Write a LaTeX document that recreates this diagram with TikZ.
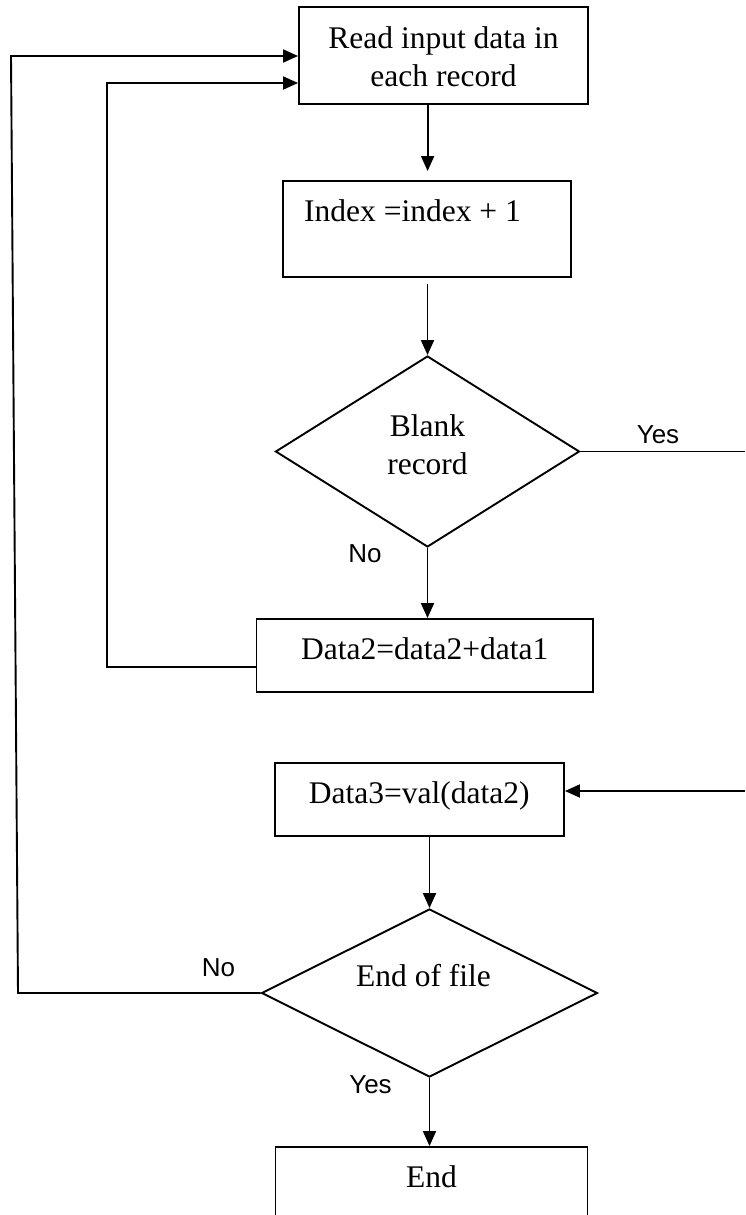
\documentclass[tikz,border=0pt]{standalone}
\usepackage{fontspec}
\setmainfont{Liberation Serif}
\newfontfamily\labfont{Liberation Sans}
\usetikzlibrary{shapes.geometric,arrows.meta}
\begin{document}
\begin{tikzpicture}[x=1pt,y=-1pt,
  box/.style={draw, line width=1.9pt, rectangle, inner sep=0pt},
  dia/.style={draw, line width=1.9pt, diamond, inner sep=0pt},
  txt/.style={font=\fontsize{31.5}{38}\selectfont, align=center, inner sep=0pt},
  lab/.style={font=\labfont\fontsize{26}{30}\selectfont, inner sep=0pt},
  conn/.style={line width=1.9pt},
  arr/.style={conn, -{Triangle[length=15pt,width=13pt]}}]
\useasboundingbox (0,0) rectangle (745,1215);
\clip (0,0) rectangle (745,1215);

% nodes
\node[box, minimum width=289pt, minimum height=97pt,
  label={[txt, yshift=-1pt]center:Read input data in\\each record}] (b1) at (443.5,55.5) {};
\node[box, minimum width=288pt, minimum height=96pt,
  label={[txt, xshift=-14.5pt, yshift=18pt]center:Index =index + 1}] (b2) at (427,229) {};
\node[dia, minimum width=304pt, minimum height=191pt,
  label={[txt, yshift=7pt]center:Blank\\record}] (d1) at (427.5,451.5) {};
\node[box, minimum width=336.5pt, minimum height=73pt,
  label={[txt, yshift=7pt]center:Data2=data2+data1}] (b3) at (424.75,655.5) {};
\node[box, minimum width=289.4pt, minimum height=73pt,
  label={[txt, yshift=3.6pt]center:Data3=val(data2)}] (b4) at (419.3,799.5) {};
\node[dia, minimum width=336pt, minimum height=168pt,
  label={[txt, xshift=-6pt, yshift=17pt]center:End of file}] (d2) at (429.5,993) {};
\node[box, minimum width=312pt, minimum height=100pt,
  label={[txt, yshift=20.5pt]center:End}] (b5) at (431.5,1197) {};

% branch labels
\node[lab, anchor=base] (yes1) at (658,443.3) {Yes};
\node[lab, anchor=base] (no1) at (365,562.7) {No};
\node[lab, anchor=base] (no2) at (218.5,976.7) {No};
\node[lab, anchor=base] (yes2) at (370.5,1093.3) {Yes};

% helper coordinates
\coordinate (c1) at (427.6,0);
\coordinate (g1) at ([yshift=9pt]b2.north);
\coordinate (g2) at ([yshift=-6pt]b2.south);
\coordinate (o1) at (11,56);
\coordinate (o2) at (18,993);
\coordinate (i1) at (107,83);
\coordinate (i2) at (107,667);
\coordinate (yesout) at (745,451.5);
\coordinate (yesin) at (745,791);

% connectors
\draw[arr] (b1.south -| c1) -- (g1 -| c1);
\draw[arr] (g2 -| d1.north) -- (d1.north);
\draw[arr] (d1.south) -- (d1.south |- b3.north);
\draw[conn] (d1.east) -- (yesout);
\draw[arr] (yesin) -- (yesin -| b4.east);
\draw[arr] (b4.south -| d2.north) -- (d2.north);
\draw[arr] (d2.south) -- (d2.south |- b5.north);
\draw[arr] (i2 -| b3.west) -- (i2) -- (i1) -- (i1 -| b1.west);
\draw[arr] (d2.west) -- (o2) -- (o1) -- (o1 -| b1.west);
\end{tikzpicture}
\end{document}
